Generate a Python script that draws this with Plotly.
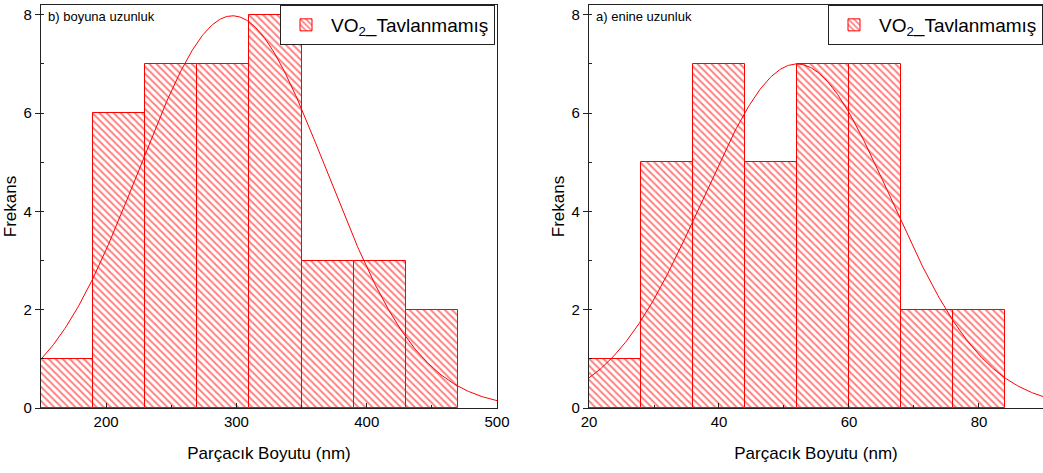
import numpy as np
import plotly.graph_objects as go

# ---------------- data ----------------
# b) boyuna uzunluk (left panel)
long_bin_edges = [150, 190, 230, 270, 310, 350, 390, 430, 470]
long_counts = [1, 6, 7, 7, 8, 3, 3, 2]
long_fit_amp, long_fit_mean, long_fit_sigma = 7.98, 297.0, 72.0

# a) enine uzunluk (right panel)
trans_bin_edges = [20, 28, 36, 44, 52, 60, 68, 76, 84]
trans_counts = [1, 5, 7, 5, 7, 7, 2, 2]
trans_fit_amp, trans_fit_mean, trans_fit_sigma = 7.0, 52.0, 14.5

left_xticks = [200, 300, 400, 500]
right_xticks = [20, 40, 60, 80]
yticks = [0, 2, 4, 6, 8]

series_name = "VO<sub>2</sub>_Tavlanmamış"
FONT = "Liberation Sans"
RED = "#ff0000"

W, H = 1043, 473
ML, MR, MT, MB = 0, 0, 5, 65


def centers_widths(edges):
    e = np.asarray(edges, dtype=float)
    return (e[:-1] + e[1:]) / 2, np.diff(e)


def gauss(x, a, m, s):
    return a * np.exp(-0.5 * ((x - m) / s) ** 2)


pattern = dict(shape="\\", fgcolor=RED, bgcolor="white", size=5, solidity=0.4)

fig = go.Figure()

# left panel
lc, lw = centers_widths(long_bin_edges)
fig.add_trace(go.Bar(
    x=lc, y=long_counts, width=lw, name=series_name,
    marker=dict(color="white", line=dict(color=RED, width=1), pattern=pattern),
    xaxis="x", yaxis="y", legend="legend", showlegend=True,
))
lx = np.linspace(150, 500, 400)
fig.add_trace(go.Scatter(
    x=lx, y=gauss(lx, long_fit_amp, long_fit_mean, long_fit_sigma),
    mode="lines", line=dict(color=RED, width=1), showlegend=False,
    xaxis="x", yaxis="y",
))

# right panel
rc, rw = centers_widths(trans_bin_edges)
fig.add_trace(go.Bar(
    x=rc, y=trans_counts, width=rw, name=series_name,
    marker=dict(color="white", line=dict(color=RED, width=1), pattern=pattern),
    xaxis="x2", yaxis="y2", legend="legend2", showlegend=True,
))
rx = np.linspace(20, 90, 400)
fig.add_trace(go.Scatter(
    x=rx, y=gauss(rx, trans_fit_amp, trans_fit_mean, trans_fit_sigma),
    mode="lines", line=dict(color=RED, width=1), showlegend=False,
    xaxis="x2", yaxis="y2",
))

axis_common = dict(
    showline=True, linecolor="#222", linewidth=1.2, mirror=True,
    showgrid=False, zeroline=False,
    tickfont=dict(family=FONT, size=15, color="black"),
    ticklen=5, tickcolor="#222",
)
title_font = dict(family=FONT, size=17, color="black")

x1_dom = [41 / W, 497 / W]
x2_dom = [589 / W, 1.0]

fig.update_layout(
    width=W, height=H,
    margin=dict(l=ML, r=MR, t=MT, b=MB, autoexpand=False),
    paper_bgcolor="white", plot_bgcolor="white",
    barmode="overlay", bargap=0,
    font=dict(family=FONT, color="black"),
    xaxis=dict(domain=x1_dom, range=[150, 500], anchor="y",
               tickvals=left_xticks, ticks="inside",
               minor=dict(ticks="inside", ticklen=3, dtick=50, tick0=150, tickcolor="#222"),
               title=dict(text="Parçacık Boyutu (nm)", font=title_font, standoff=18),
               **axis_common),
    yaxis=dict(domain=[0, 1], range=[0, 8.2], anchor="x",
               tickvals=yticks, ticks="outside",
               minor=dict(ticks="inside", ticklen=3, dtick=1, tickcolor="#222"),
               title=dict(text="Frekans", font=title_font, standoff=2),
               **axis_common),
    xaxis2=dict(domain=x2_dom, range=[20, 89.85], anchor="y2",
                tickvals=right_xticks, ticks="inside",
                minor=dict(ticks="inside", ticklen=3, dtick=10, tick0=20, tickcolor="#222"),
                title=dict(text="Parçacık Boyutu (nm)", font=title_font, standoff=18),
                **axis_common),
    yaxis2=dict(domain=[0, 1], range=[0, 8.2], anchor="x2",
                tickvals=yticks, ticks="outside",
                minor=dict(ticks="inside", ticklen=3, dtick=1, tickcolor="#222"),
                title=dict(text="Frekans", font=title_font, standoff=2),
                **axis_common),
    legend=dict(x=495 / W, xanchor="right", y=1, yanchor="top",
                bgcolor="white", bordercolor="#222", borderwidth=1,
                font=dict(family=FONT, size=19, color="black"),
                itemwidth=40, tracegroupgap=0),
    legend2=dict(x=1.0, xanchor="right", y=1, yanchor="top",
                 bgcolor="white", bordercolor="#222", borderwidth=1,
                 font=dict(family=FONT, size=19, color="black"),
                 itemwidth=40, tracegroupgap=0),
    annotations=[
        dict(text="b) boyuna uzunluk", x=46 / W, xref="paper", xanchor="left",
             y=1, yref="paper", yanchor="top", yshift=-2, showarrow=False,
             font=dict(family=FONT, size=13, color="black")),
        dict(text="a) enine uzunluk", x=594 / W, xref="paper", xanchor="left",
             y=1, yref="paper", yanchor="top", yshift=-2, showarrow=False,
             font=dict(family=FONT, size=13, color="black")),
    ],
)

fig.write_html("out.html")
